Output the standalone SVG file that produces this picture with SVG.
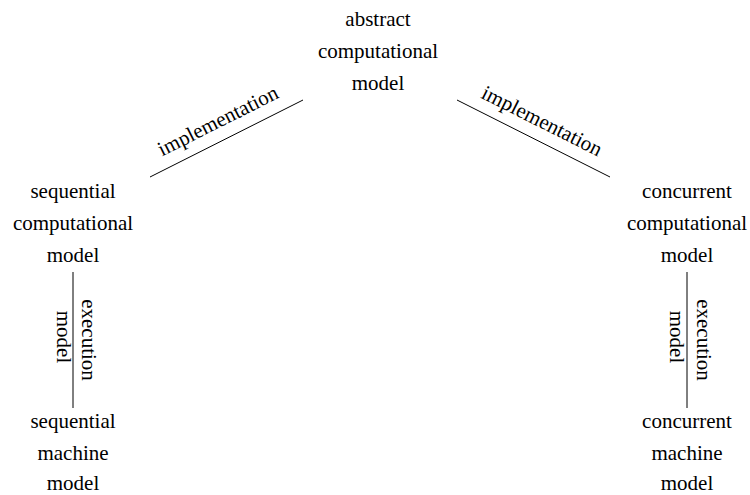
<svg xmlns="http://www.w3.org/2000/svg" width="750" height="495" viewBox="0 0 750 495">
<style>
text{font-family:"Liberation Serif","Times New Roman",serif;font-size:21px;fill:#000;text-anchor:middle}
.c line{stroke:#000;stroke-width:1}
</style>
<rect width="750" height="495" fill="#fff"/>
<g class="c" id="connectors">
<line x1="150" y1="177" x2="303" y2="100"/>
<line x1="457" y1="100" x2="610" y2="177"/>
<line x1="73" y1="272" x2="73" y2="408"/>
<line x1="687" y1="272" x2="687" y2="408"/>
<text transform="translate(221,127) rotate(-26.7)">implementation</text>
<text transform="translate(539,127) rotate(26.7)">implementation</text>
<text transform="translate(82,340) rotate(90)">execution</text>
<text transform="translate(57,337) rotate(90)">model</text>
<text transform="translate(697,340) rotate(90)">execution</text>
<text transform="translate(670,337) rotate(90)">model</text>
</g>
<g id="abstract"><text x="378" y="26">abstract</text><text x="378" y="58">computational</text><text x="378" y="90">model</text></g>
<g id="seqcomp"><text x="73" y="198">sequential</text><text x="73" y="230">computational</text><text x="73" y="262">model</text></g>
<g id="concomp"><text x="687" y="198">concurrent</text><text x="687" y="230">computational</text><text x="687" y="262">model</text></g>
<g id="seqmach"><text x="73" y="428">sequential</text><text x="73" y="460">machine</text><text x="73" y="490">model</text></g>
<g id="conmach"><text x="687" y="428">concurrent</text><text x="687" y="460">machine</text><text x="687" y="490">model</text></g>
</svg>
